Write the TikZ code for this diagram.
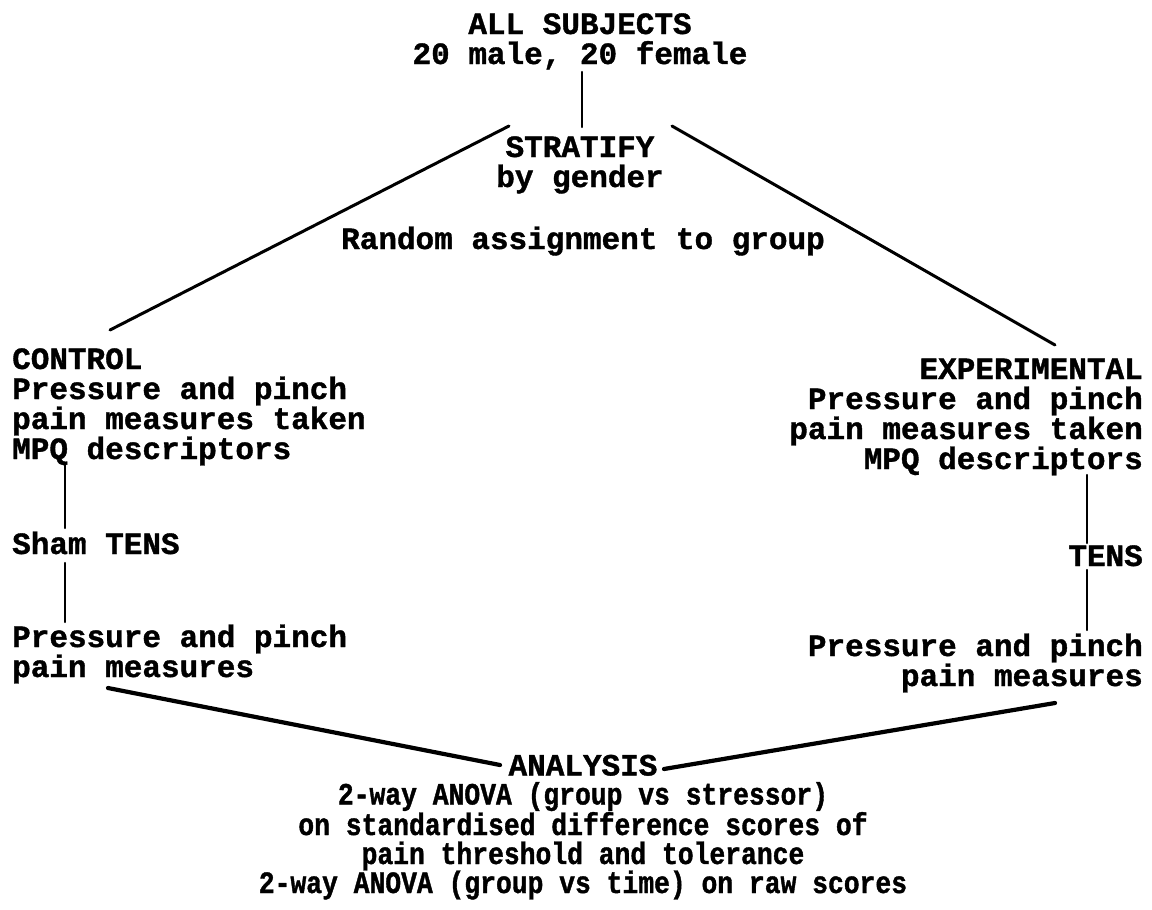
\documentclass[tikz,border=0pt]{standalone}
\usepackage{fontspec}
\setmainfont{Liberation Mono}[BoldFeatures={FakeBold=1.2}]
\newfontfamily\condfont{Liberation Mono}[FakeStretch=0.85,BoldFeatures={FakeBold=1.2}]
\begin{document}
\begin{tikzpicture}[x=1pt,y=-1pt,
  txt/.style={inner sep=0pt,font=\fontsize{31}{30}\selectfont\bfseries},
  ctxt/.style={inner sep=0pt,font=\fontsize{31}{29}\selectfont\condfont\bfseries},
  link/.style={line width=2.2pt,line cap=round},
  diag/.style={line width=3pt,line cap=round},
  heavy/.style={line width=4.2pt,line cap=round}]
\useasboundingbox[fill=white] (0,0) rectangle (1152,910);
% top (anchor base = baseline of the last line)
\node[txt,anchor=base,align=center] (all) at (580,64) {ALL SUBJECTS\\20 male, 20 female};
\node[txt,anchor=base,align=center] (strat) at (580,187) {STRATIFY\\by gender};
\node[txt,anchor=base] (rand) at (583,249) {Random assignment to group};
% left
\node[txt,anchor=base west,align=left] (ctrl) at (12,459) {CONTROL\\Pressure and pinch\\pain measures taken\\MPQ descriptors};
\node[txt,anchor=base west] (sham) at (12,554) {Sham TENS};
\node[txt,anchor=base west,align=left] (cpost) at (12,677) {Pressure and pinch\\pain measures};
% right
\node[txt,anchor=base east,align=right] (expt) at (1143,469) {EXPERIMENTAL\\Pressure and pinch\\pain measures taken\\MPQ descriptors};
\node[txt,anchor=base east] (tens) at (1143,566) {TENS};
\node[txt,anchor=base east,align=right] (epost) at (1143,686) {Pressure and pinch\\pain measures};
% bottom
\node[ctxt,anchor=base,align=center] (anal) at (583,893) {{\rmfamily\bfseries ANALYSIS}\\2-way ANOVA (group vs stressor)\\on standardised difference scores of\\pain threshold and tolerance\\2-way ANOVA (group vs time) on raw scores};
% connector end points
\coordinate (a1) at (582,72);  \coordinate (a2) at (582,127);
\coordinate (l1) at (509,126); \coordinate (l2) at (110,330);
\coordinate (r1) at (672,126); \coordinate (r2) at (1055,345);
\coordinate (cv1) at (65,463); \coordinate (cv2) at (65,528);
\coordinate (cv3) at (65,563); \coordinate (cv4) at (65,622);
\coordinate (ev1) at (1087,475); \coordinate (ev2) at (1087,543);
\coordinate (ev3) at (1087,570); \coordinate (ev4) at (1087,630);
\coordinate (bl1) at (108,688); \coordinate (bl2) at (500,765);
\coordinate (br1) at (1055,703); \coordinate (br2) at (664,769);
\draw[link] (a1) -- (a2);
\draw[diag] (l1) -- (l2);
\draw[diag] (r1) -- (r2);
\draw[link] (cv1) -- (cv2);
\draw[link] (cv3) -- (cv4);
\draw[link] (ev1) -- (ev2);
\draw[link] (ev3) -- (ev4);
\draw[heavy] (bl1) -- (bl2);
\draw[heavy] (br1) -- (br2);
\end{tikzpicture}
\end{document}
